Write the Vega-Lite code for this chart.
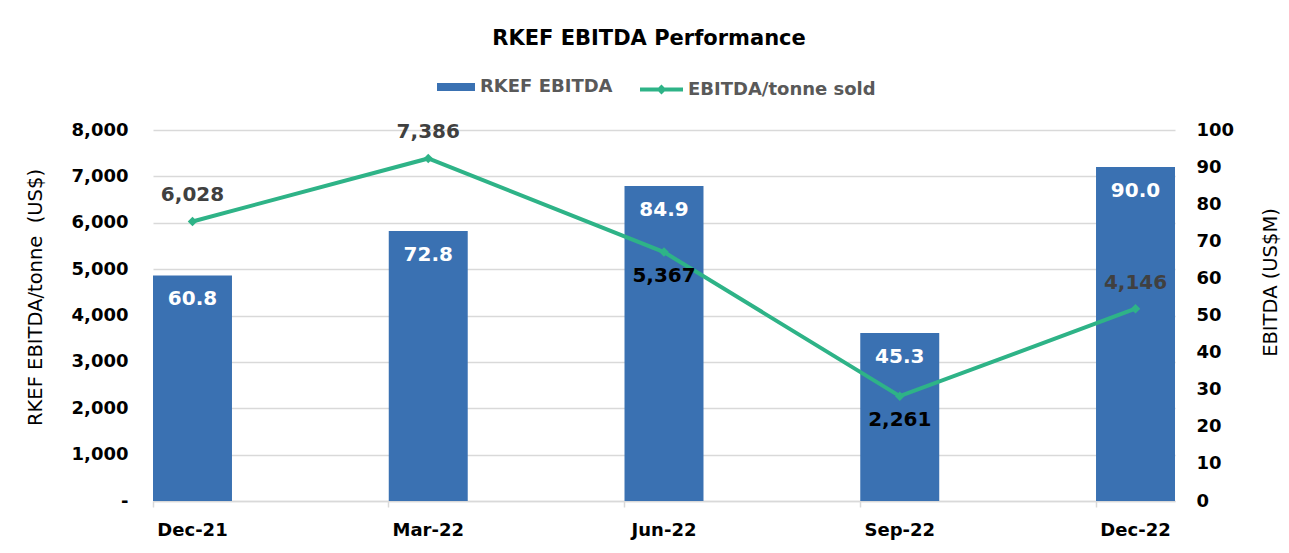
{
  "$schema": "https://vega.github.io/schema/vega-lite/v6.json",
  "width": 1022,
  "height": 371,
  "autosize": {"type": "none"},
  "padding": {"left": 153, "top": 130, "right": 114, "bottom": 52},
  "background": "white",
  "title": {"text": "RKEF EBITDA Performance", "font": "DejaVu Sans", "fontSize": 21, "fontWeight": "bold", "color": "#000000", "anchor": "middle", "dx": -15, "offset": 19},
  "config": {"view": {"stroke": null}, "font": "DejaVu Sans"},
  "data": {"values": [
    {"period": "Dec-21", "ebitda": 60.8, "tpt": 6028},
    {"period": "Mar-22", "ebitda": 72.8, "tpt": 7386},
    {"period": "Jun-22", "ebitda": 84.9, "tpt": 5367},
    {"period": "Sep-22", "ebitda": 45.3, "tpt": 2261},
    {"period": "Dec-22", "ebitda": 90.0, "tpt": 4146}
  ]},
  "encoding": {
    "x": {"field": "period", "type": "nominal", "sort": null,
      "scale": {"paddingInner": 0.665, "paddingOuter": 0},
      "axis": {"title": null, "labelAngle": 0, "bandPosition": 0,
        "tickColor": "#d9d9d9", "tickSize": 6, "tickWidth": 1.5,
        "domainColor": "#d9d9d9", "domainWidth": 1.5,
        "labelFont": "DejaVu Sans", "labelFontWeight": "bold", "labelFontSize": 18, "labelColor": "#000000", "labelPadding": 14}}
  },
  "layer": [
    {
      "encoding": {
        "y": {"field": "ebitda", "type": "quantitative", "scale": {"domain": [0, 100]},
          "axis": {"orient": "right", "title": "EBITDA (US$M)", "values": [0, 10, 20, 30, 40, 50, 60, 70, 80, 90, 100],
            "ticks": false, "domain": false, "grid": false, "labelPadding": 21,
            "labelFontSize": 18, "labelFontWeight": "bold", "labelColor": "#000000", "labelBaseline": "middle",
            "titleFontSize": 19.5, "titleFontWeight": "normal", "titleColor": "#000000",
            "titleAngle": -90, "titleX": 95, "titleY": 152, "titleAlign": "center", "titleBaseline": "middle"}}
      },
      "layer": [
        {"mark": {"type": "bar"},
         "encoding": {"color": {"datum": "RKEF EBITDA", "type": "nominal", "scale": {"range": ["#3A71B2"]},
           "legend": {"title": null, "orient": "none", "legendX": 284, "legendY": -62,
             "symbolType": "M-1,-0.21H1V0.21H-1Z", "symbolSize": 1444, "symbolStrokeWidth": 0,
             "labelFont": "DejaVu Sans", "labelFontSize": 18, "labelFontWeight": "bold", "labelColor": "#595959", "labelOffset": 5, "labelLimit": 400}}}},
        {"mark": {"type": "text", "baseline": "middle", "dy": 24, "color": "#ffffff", "fontSize": 20, "fontWeight": "bold", "font": "DejaVu Sans"},
         "encoding": {"text": {"field": "ebitda", "type": "quantitative", "format": ".1f"}}}
      ]
    },
    {
      "encoding": {
        "y": {"field": "tpt", "type": "quantitative", "scale": {"domain": [0, 8000]},
          "axis": {"orient": "left", "title": "RKEF EBITDA/tonne\u00a0 (US$)", "values": [0, 1000, 2000, 3000, 4000, 5000, 6000, 7000, 8000],
            "format": ",.0f", "labelExpr": "datum.value === 0 ? '-\u00a0\u00a0' : datum.label",
            "ticks": false, "domain": false, "grid": true, "gridColor": "#d9d9d9", "gridWidth": 1.5,
            "labelPadding": 25, "labelFontSize": 18, "labelFontWeight": "bold", "labelColor": "#000000", "labelBaseline": "middle",
            "titleFontSize": 19.5, "titleFontWeight": "normal", "titleColor": "#000000",
            "titleAngle": -90, "titleX": -118, "titleY": 167, "titleAlign": "center", "titleBaseline": "middle"}}
      },
      "layer": [
        {"mark": {"type": "line", "strokeWidth": 4},
         "encoding": {"stroke": {"datum": "EBITDA/tonne sold", "type": "nominal", "scale": {"range": ["#2EB387"]},
           "legend": {"title": null, "orient": "none", "legendX": 487, "legendY": -62,
             "symbolType": "M-1,-0.09H-0.14L0,-0.23L0.14,-0.09H1V0.09H0.14L0,0.23L-0.14,0.09H-1Z", "symbolSize": 1849,
             "symbolFillColor": "#2EB387", "symbolStrokeWidth": 0,
             "labelFont": "DejaVu Sans", "labelFontSize": 18, "labelFontWeight": "bold", "labelColor": "#595959", "labelOffset": 5, "labelLimit": 400}}}},
        {"mark": {"type": "point", "shape": "diamond", "filled": true, "color": "#2EB387", "size": 90, "opacity": 1}},
        {"transform": [{"filter": {"field": "period", "oneOf": ["Dec-21", "Mar-22", "Dec-22"]}}],
         "mark": {"type": "text", "baseline": "middle", "dy": -26, "color": "#404040", "fontSize": 20, "fontWeight": "bold", "font": "DejaVu Sans"},
         "encoding": {"text": {"field": "tpt", "type": "quantitative", "format": ","}}},
        {"transform": [{"filter": {"field": "period", "oneOf": ["Jun-22", "Sep-22"]}}],
         "mark": {"type": "text", "baseline": "middle", "dy": 24, "color": "#000000", "fontSize": 20, "fontWeight": "bold", "font": "DejaVu Sans"},
         "encoding": {"text": {"field": "tpt", "type": "quantitative", "format": ","}}}
      ]
    }
  ],
  "resolve": {"scale": {"y": "independent"}}
}
